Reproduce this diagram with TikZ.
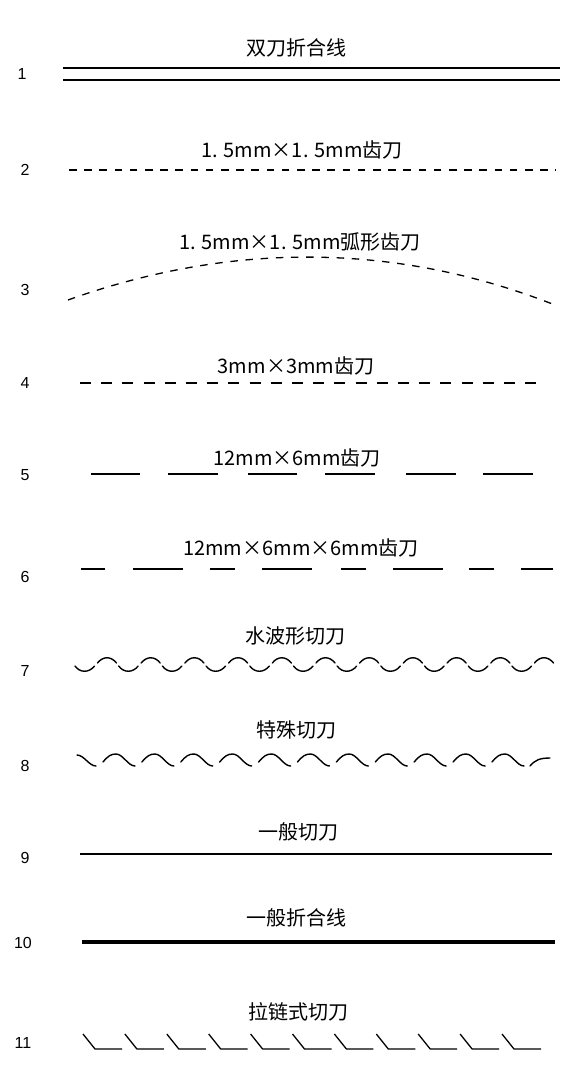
\documentclass[tikz,border=0pt]{standalone}
\usepackage{fontspec}
\setmainfont{Noto Sans CJK SC}
\newfontfamily\numfont{Liberation Sans}
\begin{document}
\begin{tikzpicture}[x=1pt,y=-1pt,
  lbl/.style={inner sep=0pt,font=\fontsize{20}{20}\selectfont},
  num/.style={inner sep=0pt,font=\numfont\fontsize{16}{16}\selectfont},
  thinline/.style={line width=1.4pt},
  cutline/.style={line width=1.3pt},
  fineDash/.style={line width=1.3pt,dash pattern=on 7.5pt off 7.7pt},
  midDash/.style={line width=1.3pt,dash pattern=on 11pt off 10.2pt},
  wave/.style={line width=1.4pt,line cap=round},
  boldline/.style={line width=4pt}]
\useasboundingbox (0,0) rectangle (582,1068);
\fill[white] (0,0) rectangle (582,1068);

% numbers
\node[num] (n1) at (22,74) {1};
\node[num] (n2) at (25,170) {2};
\node[num] (n3) at (25,290) {3};
\node[num] (n4) at (25,383) {4};
\node[num] (n5) at (25,475) {5};
\node[num] (n6) at (25,577) {6};
\node[num] (n7) at (25,671) {7};
\node[num] (n8) at (25,766) {8};
\node[num] (n9) at (25,858) {9};
\node[num] (n10) at (23,943) {10};
\node[num] (n11) at (23,1043) {11};

% labels
\node[lbl] (l1) at (296,48) {双刀折合线};
\node[lbl] (l2) at (302,150) {1. 5mm×1. 5mm齿刀};
\node[lbl] (l3) at (300,242) {1. 5mm×1. 5mm弧形齿刀};
\node[lbl] (l4) at (296,366) {3mm×3mm齿刀};
\node[lbl] (l5) at (297,458) {12mm×6mm齿刀};
\node[lbl] (l6) at (301,548) {12mm×6mm×6mm齿刀};
\node[lbl] (l7) at (295,636) {水波形切刀};
\node[lbl] (l8) at (296,730) {特殊切刀};
\node[lbl] (l9) at (298,832) {一般切刀};
\node[lbl] (l10) at (296,918) {一般折合线};
\node[lbl] (l11) at (298,1012) {拉链式切刀};

% row 1
\coordinate (a1) at (63,68); \coordinate (b1) at (560,68);
\coordinate (c1) at (63,80); \coordinate (d1) at (560,80);
\draw[thinline] (a1) -- (b1);
\draw[thinline] (c1) -- (d1);

% row 2
\coordinate (a2) at (69,170); \coordinate (b2) at (556,170);
\draw[fineDash] (a2) -- (b2);

% row 3
\coordinate (a3) at (68,300); \coordinate (b3) at (555,305);
\draw[fineDash] (a3) .. controls (230,242) and (395,242) .. (b3);

% row 4
\coordinate (a4) at (80,383); \coordinate (b4) at (546,383);
\draw[midDash] (a4) -- (b4);

% row 5
\foreach \s/\e in {91/140,168/218,248/297,325/375,406/456,483/533}
  \draw[cutline] (\s,474) -- (\e,474);

% row 6
\foreach \s/\e in {81/105,133/183,210/235,262/312,341/366,393/443,469/494,521/553}
  \draw[cutline] (\s,569) -- (\e,569);

% row 7 water wave
\foreach \i in {0,...,10}{
  \pgfmathsetmacro\xa{75+43.7*\i}
  \draw[wave] (\xa,666) .. controls (\xa+5,673) and (\xa+14,673) .. (\xa+19.5,666);
  \draw[wave] (\xa+22.5,663) .. controls (\xa+28,656) and (\xa+36,656) .. (\xa+41.5,663);
}

% row 8 special
\draw[wave] (77,755) .. controls (84,755) and (89,766) .. (96,766);
\foreach \i in {0,...,10}{
  \pgfmathsetmacro\xa{103+38.9*\i}
  \draw[wave] (\xa,762) .. controls (\xa+5,756) and (\xa+8,754) .. (\xa+13,754)
     .. controls (\xa+20,754) and (\xa+25,766) .. (\xa+32,766);
}
\draw[wave] (530,766) .. controls (535,760) and (540,758) .. (550,758);

% row 9
\coordinate (a9) at (80,854); \coordinate (b9) at (552,854);
\draw[cutline] (a9) -- (b9);

% row 10
\coordinate (a10) at (82,942); \coordinate (b10) at (555,942);
\draw[boldline] (a10) -- (b10);

% row 11 zipper
\foreach \i in {0,...,10}{
  \pgfmathsetmacro\xa{83+41.9*\i}
  \draw[cutline,line join=round] (\xa,1034) -- (\xa+12,1049) -- (\xa+39,1049);
}
\end{tikzpicture}
\end{document}
